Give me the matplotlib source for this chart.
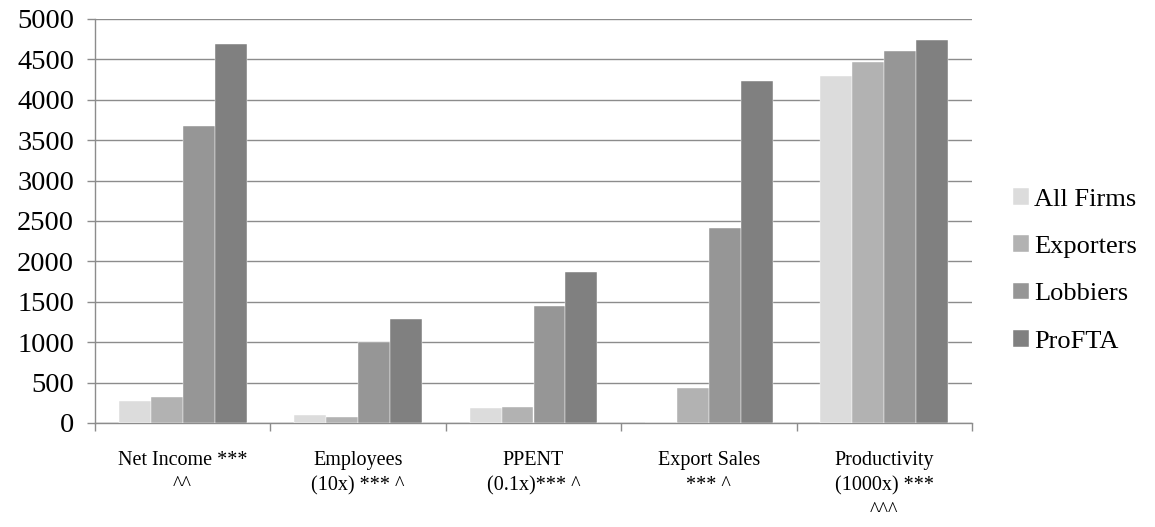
import numpy as np
import matplotlib
matplotlib.use("Agg")
import matplotlib.pyplot as plt

# Data
categories = ["Net Income ***\n^^", "Employees\n(10x) *** ^", "PPENT\n(0.1x)*** ^",
              "Export Sales\n*** ^", "Productivity\n(1000x) ***\n^^^"]
series_names = ["All Firms", "Exporters", "Lobbiers", "ProFTA"]
all_firms = [272, 99, 181, 0, 4298]
exporters = [322, 78, 194, 429, 4472]
lobbiers = [3680, 1006, 1452, 2413, 4600]
profta = [4687, 1283, 1865, 4229, 4744]
colors = ["#dcdcdc", "#b2b2b2", "#969696", "#808080"]

plt.rcParams["font.family"] = ["Liberation Serif", "DejaVu Serif"]
grid_color = "#8c8c8c"

fig = plt.figure(figsize=(11.55, 5.27), dpi=100)
ax = fig.add_axes([95 / 1155, 104 / 527, 877 / 1155, 404 / 527])

x = np.arange(len(categories)) + 0.5
w = 0.182
handles = []
for j, vals in enumerate([all_firms, exporters, lobbiers, profta]):
    b = ax.bar(x + (j - 1.5) * w, vals, width=w, color=colors[j],
               edgecolor="white", linewidth=0.3, label=series_names[j], zorder=3)
    handles.append(b)

ax.set_xlim(0, len(categories))
ax.set_ylim(0, 5000)
ax.set_yticks(np.arange(0, 5001, 500))
ax.yaxis.grid(True, color=grid_color, linewidth=1.0, zorder=0)
ax.set_axisbelow(True)

for s in ["top", "right"]:
    ax.spines[s].set_visible(False)
ax.spines["left"].set_color(grid_color)
ax.spines["bottom"].set_color(grid_color)
ax.spines["left"].set_linewidth(1.0)
ax.spines["bottom"].set_linewidth(1.0)

ax.tick_params(axis="y", length=6, width=1.0, color=grid_color, labelsize=20.5, pad=9)
ax.set_xticks(np.arange(0, len(categories) + 1))
ax.set_xticklabels([])
ax.tick_params(axis="x", which="major", length=6, width=1.0, color=grid_color)
ax.set_xticks(x, minor=True)
ax.set_xticklabels(categories, minor=True, fontsize=14.5, va="top")
ax.tick_params(axis="x", which="minor", length=0, pad=20)
for t in ax.get_xticklabels(minor=True):
    t.set_linespacing(1.45)

fig.legend(handles=handles, labels=series_names, loc="center left",
           bbox_to_anchor=(1013 / 1155, 0.487), frameon=False, fontsize=19,
           handlelength=0.6, handleheight=0.6, handletextpad=0.2,
           labelspacing=0.93, borderpad=0, borderaxespad=0)

fig.savefig("out.png", dpi=100, facecolor="white")
